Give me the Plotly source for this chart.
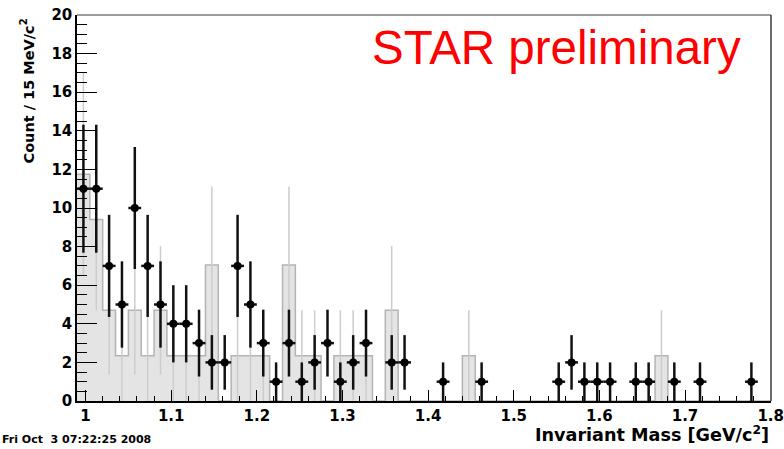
import numpy as np
import plotly.graph_objects as go

# ---- data ----
x_min, x_max = 0.99, 1.80
bin_width = 0.015
signal_counts = [11, 11, 7, 5, 10, 7, 5, 4, 4, 3, 2, 2, 7, 5, 3, 1, 3, 1, 2, 3,
                 1, 2, 3, 0, 2, 2, 0, 0, 1, 0, 0, 1, 0, 0, 0, 0, 0, 1, 2, 1,
                 1, 1, 0, 1, 1, 0, 1, 0, 1, 0, 0, 0, 1, 0]
bkg_raw_counts = [5, 4, 2, 1, 2, 1, 2, 1, 1, 1, 3, 0, 1, 1, 1, 0, 3, 1, 1, 0,
                  1, 1, 1, 0, 2, 0, 0, 0, 0, 0, 1, 0, 0, 0, 0, 0, 0, 0, 0, 0,
                  0, 0, 0, 0, 0, 1, 0, 0, 0, 0, 0, 0, 0, 0]
bkg_scale = 2.35
x_tick_vals = [1.0, 1.1, 1.2, 1.3, 1.4, 1.5, 1.6, 1.7, 1.8]
x_tick_text = ["1", "1.1", "1.2", "1.3", "1.4", "1.5", "1.6", "1.7", "1.8"]

# ---- derived ----
n_bins = len(signal_counts)
edges = x_min + bin_width * np.arange(n_bins + 1)
centers = edges[:-1] + bin_width / 2
sig = np.array(signal_counts, dtype=float)
bkg = np.array(bkg_raw_counts, dtype=float) * bkg_scale
bkg_err = np.sqrt(np.array(bkg_raw_counts, dtype=float)) * bkg_scale

fig = go.Figure()

# background histogram (filled step)
fig.add_trace(go.Scatter(
    x=edges, y=np.append(bkg, bkg[-1]),
    mode="lines", line=dict(shape="hv", color="#b4b4b4", width=1.5),
    fill="tozeroy", fillcolor="#e4e4e4", hoverinfo="skip", showlegend=False))

# background error bars
mb = np.array(bkg_raw_counts) > 0
fig.add_trace(go.Scatter(
    x=centers[mb], y=bkg[mb], mode="markers",
    marker=dict(size=1, color="rgba(0,0,0,0)"),
    error_y=dict(type="data", array=bkg_err[mb], color="#cccccc", thickness=1.5, width=0),
    showlegend=False))

# signal points
ms = sig > 0
fig.add_trace(go.Scatter(
    x=centers[ms], y=sig[ms], mode="markers",
    marker=dict(size=8, color="black", symbol="circle"),
    error_y=dict(type="data", array=np.sqrt(sig[ms]), color="#111111", thickness=2.5, width=0),
    error_x=dict(type="constant", value=bin_width / 2, color="#111111", thickness=2.5, width=0),
    showlegend=False))

tick_font = dict(family="DejaVu Sans", size=15, color="black", weight="bold")

fig.update_layout(
    width=784, height=449,
    margin=dict(l=77, r=13, t=15, b=48, autoexpand=False),
    paper_bgcolor="white", plot_bgcolor="white",
    xaxis=dict(range=[x_min, x_max + 0.0004], tickmode="array", tickvals=x_tick_vals, ticktext=x_tick_text,
               automargin=False,
               ticks="inside", ticklen=11, tickwidth=1.2, tickcolor="black",
               minor=dict(tickmode="linear", tick0=1.0, dtick=0.02, ticks="inside", ticklen=5.5,
                          tickwidth=1.2, tickcolor="black"),
               showline=True, linecolor="black", linewidth=1.5, showgrid=False, zeroline=False,
               tickfont=tick_font),
    yaxis=dict(range=[0, 20], tickmode="linear", tick0=0, dtick=2,
               automargin=False,
               ticks="inside", ticklen=20, tickwidth=1.2, tickcolor="black",
               minor=dict(dtick=0.5, ticks="inside", ticklen=10, tickwidth=1.2, tickcolor="black"),
               showline=True, linecolor="black", linewidth=1.5, showgrid=False, zeroline=False,
               tickfont=tick_font),
    shapes=[
        dict(type="line", xref="paper", yref="paper", x0=0, x1=1, y0=1, y1=1,
             line=dict(color="#7a7a7a", width=1.5)),
        dict(type="line", xref="paper", yref="paper", x0=1, x1=1, y0=0, y1=1,
             line=dict(color="#3a3a3a", width=1.5)),
    ],
    annotations=[
        dict(text="STAR preliminary", xref="paper", yref="paper",
             x=(370 - 77) / 694, y=(401 - 48) / 386, xanchor="left", yanchor="middle",
             showarrow=False, font=dict(family="Liberation Sans", size=47.5, color="#ff0000")),
        dict(text="Count / 15 MeV/c<sup>2</sup>", xref="paper", yref="paper",
             x=(27 - 77) / 694, y=(401 - 17) / 386, xanchor="center", yanchor="top",
             textangle=-90, showarrow=False,
             font=dict(family="DejaVu Sans", size=14.5, color="black", weight="bold")),
        dict(text="Invariant Mass [GeV/c<sup>2</sup>]", xref="paper", yref="paper",
             x=1.0, y=(401 - 434) / 386, xanchor="right", yanchor="middle",
             showarrow=False,
             font=dict(family="DejaVu Sans", size=17.6, color="black", weight="bold")),
        dict(text="Fri Oct \u00a03 07:22:25 2008", xref="paper", yref="paper",
             x=(0 - 77) / 694, y=(401 - 440) / 386, xanchor="left", yanchor="middle",
             showarrow=False,
             font=dict(family="DejaVu Sans", size=11, color="black", weight="bold")),
    ],
)

fig.write_html("out.html")
